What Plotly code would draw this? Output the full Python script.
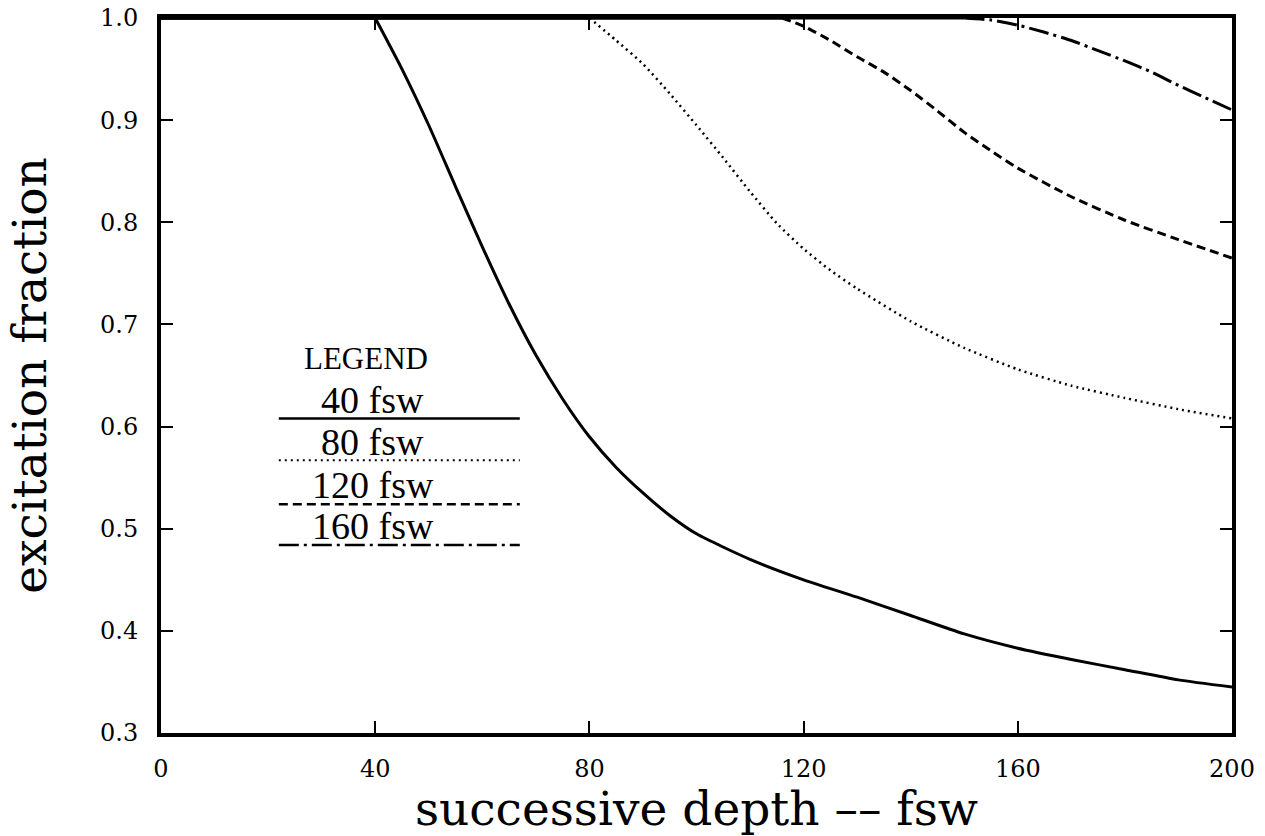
import plotly.graph_objects as go

# ---- data ----
x_40 = [0, 40, 45, 50, 55, 60, 65, 70, 75, 80, 85, 90, 95, 100, 110, 120, 130, 140, 150, 160, 170, 180, 190, 200]
y_40 = [1.0, 1.0, 0.95, 0.895, 0.835, 0.776, 0.72, 0.67, 0.627, 0.59, 0.56, 0.535, 0.513, 0.495, 0.47, 0.45,
        0.433, 0.415, 0.397, 0.383, 0.372, 0.362, 0.352, 0.345]

x_80 = [0, 80, 85, 90, 95, 100, 105, 110, 115, 120, 125, 130, 140, 150, 160, 170, 180, 190, 200]
y_80 = [1.0, 1.0, 0.978, 0.955, 0.926, 0.895, 0.863, 0.83, 0.799, 0.774, 0.753, 0.735, 0.703, 0.677, 0.656, 0.64,
        0.628, 0.617, 0.608]

x_120 = [0, 116, 120, 125, 130, 135, 140, 145, 150, 155, 160, 170, 180, 190, 200]
y_120 = [1.0, 1.0, 0.992, 0.978, 0.962, 0.947, 0.929, 0.909, 0.888, 0.87, 0.853, 0.825, 0.802, 0.783, 0.765]

x_160 = [0, 150, 155, 160, 165, 170, 175, 180, 185, 190, 195, 200]
y_160 = [1.0, 1.0, 0.998, 0.993, 0.986, 0.978, 0.968, 0.958, 0.947, 0.934, 0.922, 0.91]

legend_labels = ["40 fsw", "80 fsw", "120 fsw", "160 fsw"]
x_ticks = [0, 40, 80, 120, 160, 200]
y_ticks = [0.3, 0.4, 0.5, 0.6, 0.7, 0.8, 0.9, 1.0]

# ---- styles ----
styles = [
    dict(color="black", width=3, dash="solid"),
    dict(color="black", width=2.5, dash="2px,4px"),
    dict(color="black", width=3, dash="9px,5px"),
    dict(color="black", width=3, dash="20px,5px,3px,5px"),
]
series = [(x_40, y_40), (x_80, y_80), (x_120, y_120), (x_160, y_160)]

FONT = "DejaVu Serif"
LFONT = "Liberation Serif"

fig = go.Figure()
for (xs, ys), st, name in zip(series, styles, legend_labels):
    # flat plateau at 1.0 (merges with the top frame line)
    fig.add_trace(go.Scatter(x=xs[:2], y=ys[:2], mode="lines",
                             line=dict(color="black", width=3), showlegend=False,
                             hoverinfo="skip"))
    # decaying part
    fig.add_trace(go.Scatter(x=xs[1:], y=ys[1:], mode="lines", name=name, line=st,
                             line_shape="spline", line_smoothing=0.6, showlegend=False))

# ---- custom legend (layout) ----
leg_x0, leg_x1 = 22, 67
leg_line_y = [0.608, 0.567, 0.524, 0.484]
leg_text_y = [0.626, 0.585, 0.543, 0.503]
fig.add_annotation(x=38.2, y=0.667, text="LEGEND", showarrow=False, xref="x", yref="y",
                   font=dict(family=LFONT, size=31, color="black"))
for lab, ly, ty, st in zip(legend_labels, leg_line_y, leg_text_y, styles):
    fig.add_shape(type="line", x0=leg_x0, x1=leg_x1, y0=ly, y1=ly, xref="x", yref="y",
                  line=dict(color="black", width=st["width"] - 0.5, dash=st["dash"]))
    fig.add_annotation(x=39.5, y=ty, text=lab, showarrow=False, xref="x", yref="y",
                       font=dict(family=LFONT, size=38, color="black"))

axis_common = dict(showline=True, linewidth=4, linecolor="black", mirror="ticks",
                   ticks="inside", ticklen=12, tickwidth=1.5, tickcolor="black",
                   showgrid=False, zeroline=False, layer="above traces",
                   tickfont=dict(family=FONT, size=24, color="black"))

fig.update_xaxes(range=[0, 200], tickvals=x_ticks, ticktext=[str(v) for v in x_ticks],
                 ticklabelstandoff=11,
                 title=dict(text="successive depth \u2013\u2013 fsw",
                            font=dict(family=FONT, size=47, color="black"), standoff=10),
                 **axis_common)
fig.update_yaxes(range=[0.3, 1.0], tickvals=y_ticks, ticktext=[f"{v:.1f}" for v in y_ticks],
                 ticklabelstandoff=14,
                 title=dict(text="excitation fraction", font=dict(family=FONT, size=47, color="black"),
                            standoff=40),
                 **axis_common)

fig.update_layout(width=1265, height=836, paper_bgcolor="white", plot_bgcolor="white",
                  margin=dict(l=161, r=33, t=18, b=103, autoexpand=False))

fig.write_html("out.html", config={"displayModeBar": False},
               post_script="document.body.style.margin='0';")
